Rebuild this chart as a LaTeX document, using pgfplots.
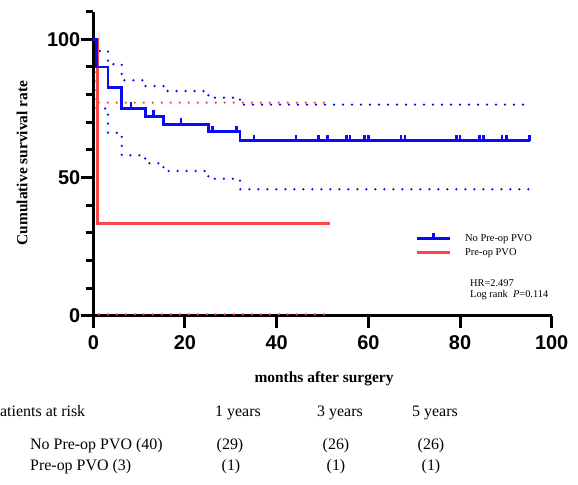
\documentclass[border=0pt]{standalone}
\usepackage{pgfplots}
\pgfplotsset{compat=1.18}
\usepackage{fontspec}
\setmainfont{Liberation Serif}
\newfontfamily\arial{Liberation Sans}
\definecolor{kmblue}{RGB}{10,10,245}
\definecolor{kmred}{RGB}{250,70,70}
\pgfdeclareplotmark{cens}{\pgfpathmoveto{\pgfqpoint{0pt}{0pt}}\pgfpathlineto{\pgfqpoint{0pt}{6bp}}\pgfusepathqstroke}
\tikzset{kmdots/.style={line width=2.6bp, line cap=round, dash pattern=on 0bp off 9bp}}
\begin{document}
\begin{tikzpicture}[x=1bp,y=1bp]
\useasboundingbox (0,0) rectangle (578,485);
\begin{axis}[
  at={(93.3bp,169bp)}, anchor=south west,
  scale only axis, width=458.4bp, height=304.4bp,
  xmin=0, xmax=100, ymin=0, ymax=110,
  axis lines*=left,
  axis line style={line width=3bp},
  tick style={line width=3bp, black},
  major tick length=12bp, minor tick length=7bp,
  tick align=outside,
  xtick={0,20,40,60,80,100},
  ytick={0,50,100},
  minor ytick={10,20,30,40,60,70,80,90,110},
  minor xtick={},
  ticklabel style={font=\arial\bfseries\fontsize{20}{20}\selectfont},
  xticklabel style={yshift=-4bp},
  yticklabel style={xshift=2.5bp},
  /pgf/number format/assume math mode=true,
  clip=false,
  reverse legend,
  legend style={draw=none, fill=none, at={(axis cs:70.3,30.6)}, anchor=north west,
    font=\fontsize{10.5}{12}\selectfont, row sep=1.5bp, inner sep=0pt, column sep=12bp},
  legend cell align=left,
]
% Pre-op PVO confidence band
\addplot[kmred, kmdots, forget plot] coordinates {(1.2,77.1) (51.5,77.1)};
\addplot[kmred, kmdots, forget plot] coordinates {(1.2,0.6) (51.5,0.6)};
% No Pre-op PVO confidence band
\addplot[kmblue, kmdots, const plot, forget plot] coordinates {
 (0,100) (0.7,95.8) (3.2,91.0) (6.2,85.2) (11.3,83.1) (15.3,81.3) (25.1,78.9) (32,76.4) (95.2,76.4)};
\addplot[kmblue, kmdots, const plot, forget plot] coordinates {
 (0,100) (0.7,75.0) (3.2,66.2) (6.2,58.1) (11.3,55.2) (15.3,52.4) (25.1,49.6) (32,45.8) (95.2,45.8)};
% Pre-op PVO
\addplot[kmred, line width=2.8bp, const plot,
  legend image code/.code={\draw[kmred, line width=2.8bp] (0bp,0bp) -- (32.6bp,0bp);}]
  coordinates {(0,100) (0.9,33.3) (51.7,33.3)};
\addlegendentry{Pre-op PVO}
% No Pre-op PVO
\addplot[kmblue, line width=2.8bp, const plot,
  legend image code/.code={\draw[kmblue, line width=2.8bp] (0bp,0bp) -- (32.6bp,0bp);
     \draw[kmblue, line width=2.5bp] (16.3bp,0bp) -- (16.3bp,6bp);}]
  coordinates {(0,100) (0.7,90) (3.2,82.5) (6.2,75) (11.3,72.1) (15.3,69.3) (25.1,66.6) (32,63.4) (95.2,63.4)};
\addlegendentry{No Pre-op PVO}
% censored observations
\addplot[kmblue, only marks, mark=cens, mark options={line width=2.5bp}, forget plot] coordinates {
 (8.2,75) (13.1,72.1) (19.1,69.3) (26.0,66.6) (31.2,66.6)
 (35.1,63.4) (44.2,63.4) (49.1,63.4) (51.1,63.4) (55.2,63.4) (56.0,63.4) (59.2,63.4) (60.0,63.4)
 (67.1,63.4) (68.0,63.4) (79.2,63.4) (80.0,63.4) (84.2,63.4) (85.1,63.4) (89.2,63.4) (90.1,63.4) (95.2,63.4)};
\end{axis}
% axis titles
\node[anchor=base, font=\bfseries\fontsize{15.5}{15.5}\selectfont, inner sep=0pt] at (324,102.3) {months after surgery};
\node[anchor=base, rotate=90, font=\bfseries\fontsize{15.5}{15.5}\selectfont, inner sep=0pt] at (27.3,322) {Cumulative survival rate};
% statistics
\node[anchor=base west, font=\fontsize{10.4}{12}\selectfont, inner sep=0pt] at (470,198.3) {HR=2.497};
\node[anchor=base west, font=\fontsize{10.4}{12}\selectfont, inner sep=0pt] at (470,187.3) {Log rank\ \ \textit{P}=0.114};
% number at risk
\begin{scope}[every node/.style={inner sep=0pt, font=\fontsize{16}{16}\selectfont}]
\node[anchor=base west] at (-8.9,68.3) {Patients at risk};
\node[anchor=base west] at (215,68.3) {1 years};
\node[anchor=base west] at (317,68.3) {3 years};
\node[anchor=base west] at (412,68.3) {5 years};
\node[anchor=base west] at (30,35) {No Pre-op PVO (40)};
\node[anchor=base west] at (30,14) {Pre-op PVO (3)};
\node[anchor=base] at (230,35) {(29)};
\node[anchor=base] at (336,35) {(26)};
\node[anchor=base] at (431,35) {(26)};
\node[anchor=base] at (231,14) {(1)};
\node[anchor=base] at (336,14) {(1)};
\node[anchor=base] at (431,14) {(1)};
\end{scope}
\end{tikzpicture}
\end{document}
